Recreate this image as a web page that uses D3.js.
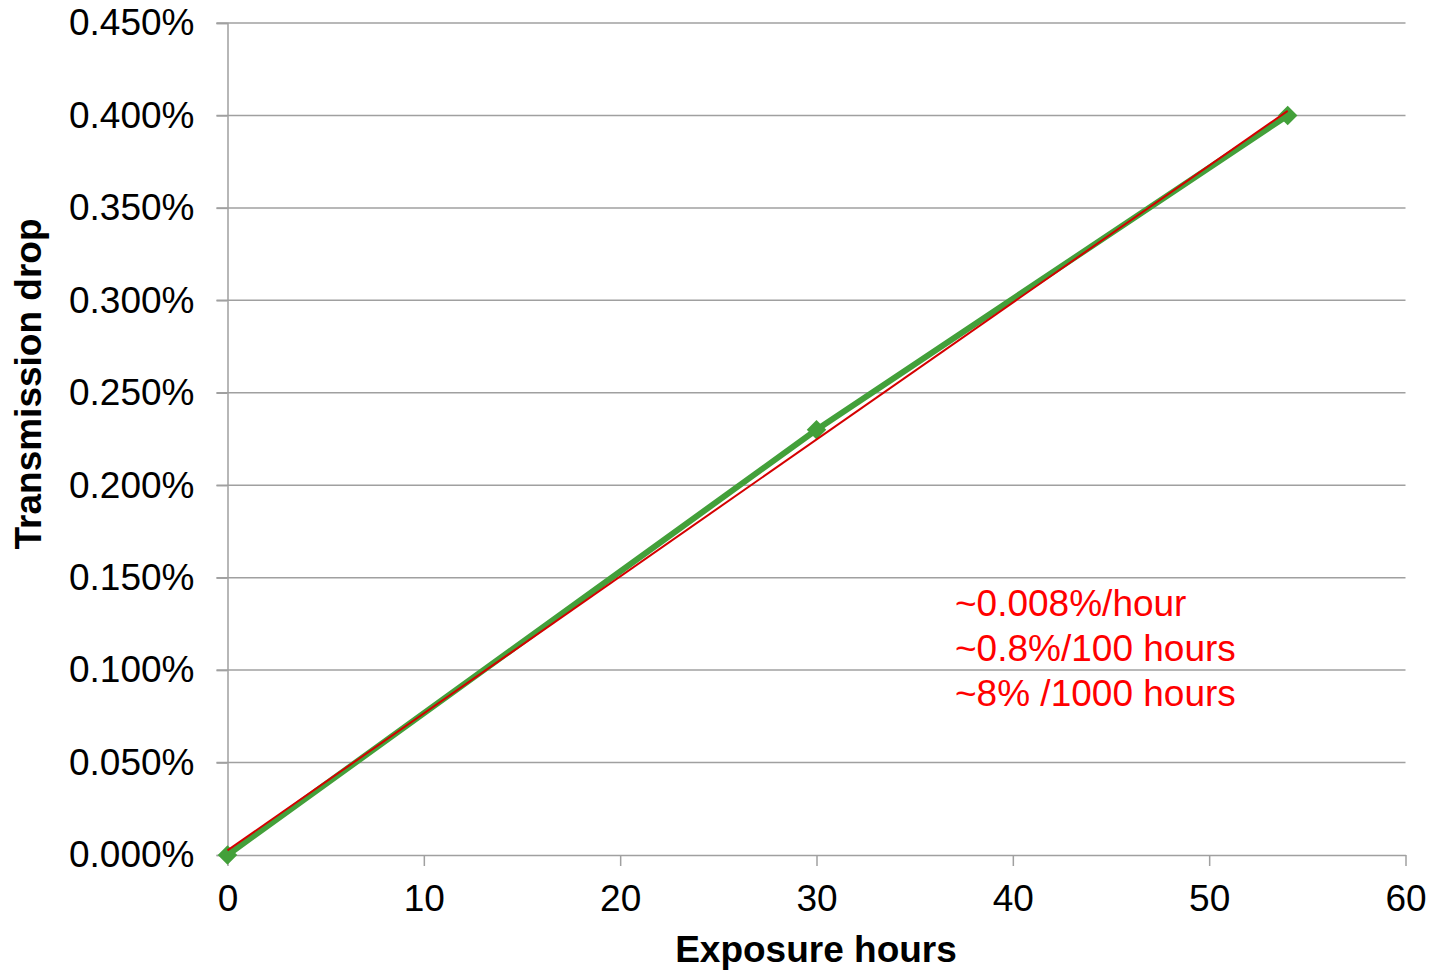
<!DOCTYPE html>
<html><head><meta charset="utf-8">
<script src="https://cdn.jsdelivr.net/npm/d3@7"></script>
<style>html,body{margin:0;padding:0;background:#fff;}svg{display:block;font-family:"Liberation Sans",Arial,sans-serif;}</style>
</head><body>
<svg id="c" width="1440" height="972"></svg>
<script>
const hours = [0, 30, 54];
const drop = [0.000, 0.230, 0.400]; // percent
const trendHours = [0, 54];
const trendDrop = [0.0025, 0.4025]; // percent (linear trendline)
const xTicks = [0, 10, 20, 30, 40, 50, 60];
const yTicks = [0, 0.05, 0.1, 0.15, 0.2, 0.25, 0.3, 0.35, 0.4, 0.45];
const notes = ["~0.008%/hour", "~0.8%/100 hours", "~8% /1000 hours"];

const svg = d3.select("#c");
const x = d3.scaleLinear().domain([0, 60]).range([227.5, 1405.5]);
const y = d3.scaleLinear().domain([0, 0.45]).range([855, 23]);
const grid = "#a0a0a0";
const FF = "Liberation Sans, Arial, sans-serif";

// horizontal gridlines (with left tick extension)
svg.append("g").selectAll("line").data(yTicks.filter(d => d > 0)).join("line")
  .attr("x1", x(0) - 11).attr("x2", x(60)).attr("y1", d => y(d)).attr("y2", d => y(d))
  .attr("stroke", grid).attr("stroke-width", 1.5);

// y axis
const yAxis = d3.axisLeft(y).tickValues(yTicks).tickSize(11).tickPadding(22)
  .tickFormat(d => d.toFixed(3) + "%");
const gy = svg.append("g").attr("transform", `translate(${x(0)},0)`).call(yAxis);
gy.select(".domain").attr("stroke", grid).attr("stroke-width", 1.5);
gy.selectAll(".tick line").attr("stroke", grid).attr("stroke-width", 1.5);
gy.selectAll(".tick text").attr("font-size", 37).attr("fill", "#000").attr("font-family", FF);

// x axis
const xAxis = d3.axisBottom(x).tickValues(xTicks).tickSize(11).tickPadding(19).tickSizeOuter(0);
const gx = svg.append("g").attr("transform", `translate(0,${y(0)})`).call(xAxis);
gx.select(".domain").attr("stroke", grid).attr("stroke-width", 1.5);
gx.selectAll(".tick line").attr("stroke", grid).attr("stroke-width", 1.5);
gx.selectAll(".tick text").attr("font-size", 37).attr("fill", "#000").attr("font-family", FF);

// data line
const pts = hours.map((h, i) => [h, drop[i]]);
const line = d3.line().x(d => x(d[0])).y(d => y(d[1]));
svg.append("path").datum(pts).attr("d", line).attr("fill", "none")
  .attr("stroke", "#43a03a").attr("stroke-width", 6).attr("stroke-linejoin", "round");
svg.append("g").selectAll("path").data(pts).join("path")
  .attr("d", d3.symbol().type(d3.symbolSquare).size(190))
  .attr("transform", d => `translate(${x(d[0])},${y(d[1])}) rotate(45)`)
  .attr("fill", "#43a03a");

// trendline
const tpts = trendHours.map((h, i) => [h, trendDrop[i]]);
svg.append("path").datum(tpts).attr("d", line).attr("fill", "none")
  .attr("stroke", "#d40000").attr("stroke-width", 2);

// annotation
svg.append("g").selectAll("text").data(notes).join("text")
  .attr("x", 955).attr("y", (d, i) => 616 + i * 45)
  .attr("font-size", 37).attr("fill", "#ff0000").text(d => d);

// axis titles
svg.append("text").attr("x", 816).attr("y", 962).attr("text-anchor", "middle")
  .attr("font-size", 37).attr("font-weight", "bold").text("Exposure hours");
svg.append("text").attr("transform", "translate(41,384) rotate(-90)").attr("text-anchor", "middle")
  .attr("font-size", 37).attr("font-weight", "bold").text("Transmission drop");
</script>
</body></html>
